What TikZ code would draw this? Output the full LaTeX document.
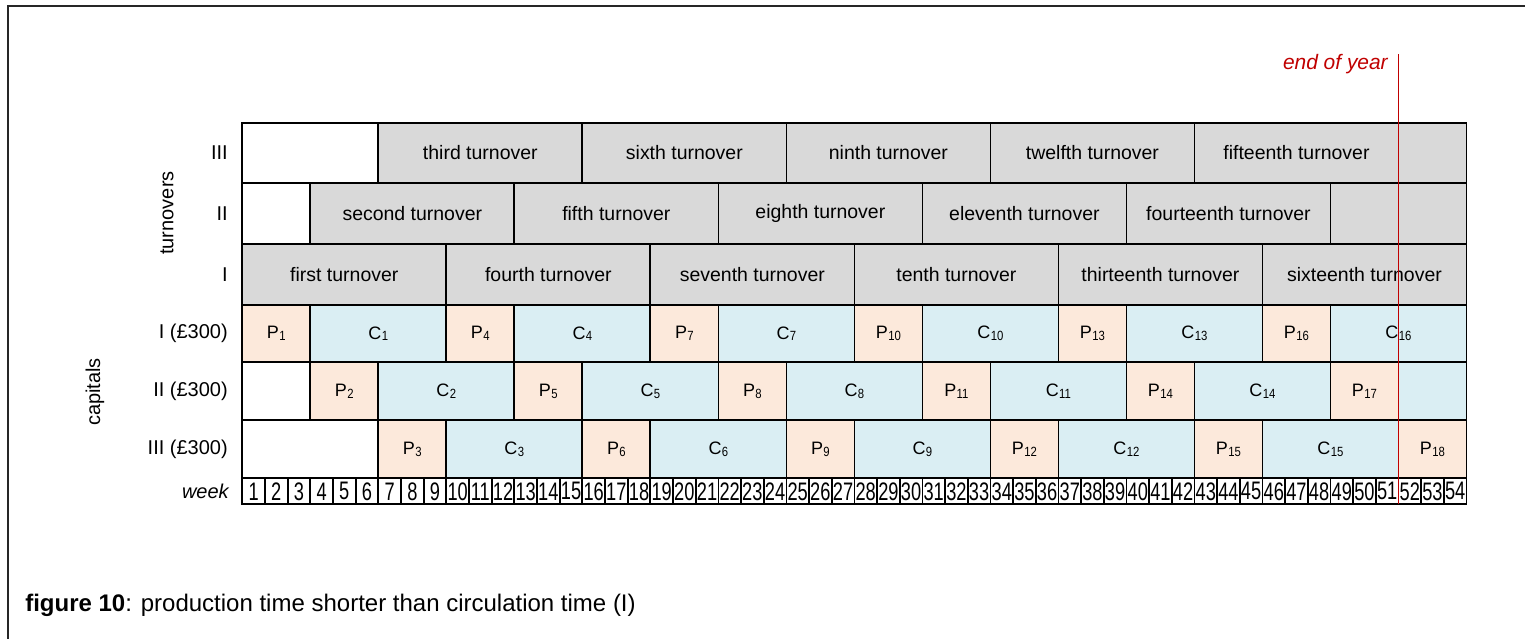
\documentclass[tikz,border=0pt]{standalone}
\usepackage{fontspec}
\setmainfont{Liberation Sans}
\usepackage{graphicx}
\definecolor{turnfill}{HTML}{D9D9D9}
\definecolor{pfill}{HTML}{FCE9DB}
\definecolor{cfill}{HTML}{DAEEF3}
\definecolor{yearred}{HTML}{C00000}
\newcommand\Pn[2]{#1\kern0.3pt\raisebox{-1.4pt}{\scalebox{0.85}[1]{\fontsize{10}{10}\selectfont #2}}}
\newcommand\blk[7]{\node[#6, minimum width={17.0025pt*(#5-#4+1)}, minimum height={0.75pt*(#3-#2)}] (#1) at ({242.3+(#4+#5-1)/2*22.67},{(#2+#3)/2}) {#7};}
\tikzset{
  box/.style={draw=black, line width=1.3pt, inner sep=0pt, font=\fontsize{14.6}{16}\selectfont},
  turnbox/.style={box, fill=turnfill},
  blankbox/.style={box, fill=white},
  pbox/.style={box, fill=pfill, font=\fontsize{13.5}{15}\selectfont},
  cbox/.style={box, fill=cfill, font=\fontsize{13.5}{15}\selectfont},
  wbox/.style={box, fill=white, font=\fontsize{19}{20}\selectfont},
  lab/.style={anchor=east, inner sep=0pt, font=\fontsize{15}{17}\selectfont},
  axislab/.style={rotate=90, inner sep=0pt, font=\fontsize{15}{17}\selectfont},
}
\begin{document}
\begin{tikzpicture}[x=0.75pt,y=-0.75pt]
\useasboundingbox (0,0) rectangle (1525,639);
% frame
\coordinate (fBL) at (7.5,639);
\coordinate (fTL) at (7.5,6.3);
\coordinate (fTR) at (1525,6.3);
\draw[line width=1.5pt, black!85] (fBL) -- (fTL) -- (fTR);
% turnover row III
\blk{t3a}{122.7}{183.3}{1}{6}{blankbox}{}
\blk{t3b}{122.7}{183.3}{7}{15}{turnbox}{third turnover}
\blk{t3c}{122.7}{183.3}{16}{24}{turnbox}{sixth turnover}
\blk{t3d}{122.7}{183.3}{25}{33}{turnbox}{ninth turnover}
\blk{t3e}{122.7}{183.3}{34}{42}{turnbox}{twelfth turnover}
\blk{t3f}{122.7}{183.3}{43}{51}{turnbox}{fifteenth turnover}
\blk{t3g}{122.7}{183.3}{52}{54}{turnbox}{}
% turnover row II
\blk{t2a}{183.3}{243.7}{1}{3}{blankbox}{}
\blk{t2b}{183.3}{243.7}{4}{12}{turnbox}{second turnover}
\blk{t2c}{183.3}{243.7}{13}{21}{turnbox}{fifth turnover}
\blk{t2d}{183.3}{243.7}{22}{30}{turnbox}{eighth turnover}
\blk{t2e}{183.3}{243.7}{31}{39}{turnbox}{eleventh turnover}
\blk{t2f}{183.3}{243.7}{40}{48}{turnbox}{fourteenth turnover}
\blk{t2g}{183.3}{243.7}{49}{54}{turnbox}{}
% turnover row I
\blk{t1a}{243.7}{305}{1}{9}{turnbox}{first turnover}
\blk{t1b}{243.7}{305}{10}{18}{turnbox}{fourth turnover}
\blk{t1c}{243.7}{305}{19}{27}{turnbox}{seventh turnover}
\blk{t1d}{243.7}{305}{28}{36}{turnbox}{tenth turnover}
\blk{t1e}{243.7}{305}{37}{45}{turnbox}{thirteenth turnover}
\blk{t1f}{243.7}{305}{46}{54}{turnbox}{sixteenth turnover}
% capital I
\blk{k1a}{305}{362.3}{1}{3}{pbox}{\Pn{P}{1}}
\blk{k1b}{305}{362.3}{4}{9}{cbox}{\Pn{C}{1}}
\blk{k1c}{305}{362.3}{10}{12}{pbox}{\Pn{P}{4}}
\blk{k1d}{305}{362.3}{13}{18}{cbox}{\Pn{C}{4}}
\blk{k1e}{305}{362.3}{19}{21}{pbox}{\Pn{P}{7}}
\blk{k1f}{305}{362.3}{22}{27}{cbox}{\Pn{C}{7}}
\blk{k1g}{305}{362.3}{28}{30}{pbox}{\Pn{P}{10}}
\blk{k1h}{305}{362.3}{31}{36}{cbox}{\Pn{C}{10}}
\blk{k1i}{305}{362.3}{37}{39}{pbox}{\Pn{P}{13}}
\blk{k1j}{305}{362.3}{40}{45}{cbox}{\Pn{C}{13}}
\blk{k1k}{305}{362.3}{46}{48}{pbox}{\Pn{P}{16}}
\blk{k1l}{305}{362.3}{49}{54}{cbox}{\Pn{C}{16}}
% capital II
\blk{k2a}{362.3}{420.3}{1}{3}{blankbox}{}
\blk{k2b}{362.3}{420.3}{4}{6}{pbox}{\Pn{P}{2}}
\blk{k2c}{362.3}{420.3}{7}{12}{cbox}{\Pn{C}{2}}
\blk{k2d}{362.3}{420.3}{13}{15}{pbox}{\Pn{P}{5}}
\blk{k2e}{362.3}{420.3}{16}{21}{cbox}{\Pn{C}{5}}
\blk{k2f}{362.3}{420.3}{22}{24}{pbox}{\Pn{P}{8}}
\blk{k2g}{362.3}{420.3}{25}{30}{cbox}{\Pn{C}{8}}
\blk{k2h}{362.3}{420.3}{31}{33}{pbox}{\Pn{P}{11}}
\blk{k2i}{362.3}{420.3}{34}{39}{cbox}{\Pn{C}{11}}
\blk{k2j}{362.3}{420.3}{40}{42}{pbox}{\Pn{P}{14}}
\blk{k2k}{362.3}{420.3}{43}{48}{cbox}{\Pn{C}{14}}
\blk{k2l}{362.3}{420.3}{49}{51}{pbox}{\Pn{P}{17}}
\blk{k2m}{362.3}{420.3}{52}{54}{cbox}{}
% capital III
\blk{k3a}{420.3}{478.3}{1}{6}{blankbox}{}
\blk{k3b}{420.3}{478.3}{7}{9}{pbox}{\Pn{P}{3}}
\blk{k3c}{420.3}{478.3}{10}{15}{cbox}{\Pn{C}{3}}
\blk{k3d}{420.3}{478.3}{16}{18}{pbox}{\Pn{P}{6}}
\blk{k3e}{420.3}{478.3}{19}{24}{cbox}{\Pn{C}{6}}
\blk{k3f}{420.3}{478.3}{25}{27}{pbox}{\Pn{P}{9}}
\blk{k3g}{420.3}{478.3}{28}{33}{cbox}{\Pn{C}{9}}
\blk{k3h}{420.3}{478.3}{34}{36}{pbox}{\Pn{P}{12}}
\blk{k3i}{420.3}{478.3}{37}{42}{cbox}{\Pn{C}{12}}
\blk{k3j}{420.3}{478.3}{43}{45}{pbox}{\Pn{P}{15}}
\blk{k3k}{420.3}{478.3}{46}{51}{cbox}{\Pn{C}{15}}
\blk{k3l}{420.3}{478.3}{52}{54}{pbox}{\Pn{P}{18}}
% weeks
\foreach \i in {1,...,54} {
  \node[wbox, minimum width=17.0025pt, minimum height=19.5pt] (w\i) at ({242.3+(\i-0.5)*22.67},491.3) {\scalebox{0.72}[1]{\i}};
}
% row labels
\node[lab] (l3) at (228,153) {III};
\node[lab] (l2) at (228,213.5) {II};
\node[lab] (l1) at (228,274.3) {I};
\node[lab] (c1) at (228,333.6) {I (£300)};
\node[lab] (c2) at (228,391.3) {II (£300)};
\node[lab] (c3) at (228,449.3) {III (£300)};
\node[lab, font=\fontsize{15}{17}\selectfont\itshape] (wk) at (229,491.3) {week};
\node[axislab] (turn) at (167,213) {turnovers};
\node[axislab] (caps) at (95,392) {capitals};
% end of year
\node[lab, text=yearred, font=\fontsize{15.7}{17}\selectfont\itshape] (eoy) at (1388,64) {end of year};
\coordinate (eyTop) at (1398.5,54);
\coordinate (eyBot) at (1398.5,504);
\draw[yearred, line width=1.1pt] (eyTop) -- (eyBot);
% caption
\node[anchor=west, inner sep=0pt, font=\fontsize{18}{20}\selectfont] (cap) at (25,605) {\textbf{figure 10}: production time shorter than circulation time (I)};
\end{tikzpicture}
\end{document}
